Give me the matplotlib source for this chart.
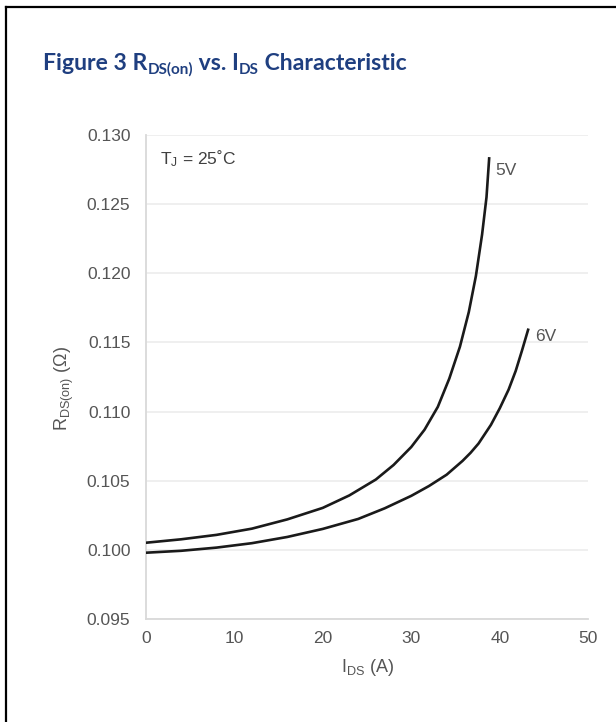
import matplotlib
matplotlib.use("Agg")
import matplotlib.pyplot as plt
from matplotlib.lines import Line2D

# ---- data ----
ids_5v = [0, 4, 8, 12, 16, 20, 23, 26, 28, 30, 31.5, 33, 34.3, 35.5, 36.5,
          37.3, 38.0, 38.5, 38.8]
rds_5v = [0.10053, 0.10078, 0.10110, 0.10155, 0.10222, 0.10305, 0.10395,
          0.10510, 0.10615, 0.10745, 0.10870, 0.11035, 0.11240, 0.11470,
          0.11720, 0.11980, 0.12280, 0.12550, 0.12830]
ids_6v = [0, 4, 8, 12, 16, 20, 24, 27, 30, 32, 34, 35.8, 36.7, 37.6, 39, 40.0,
          41.0, 41.8, 42.5, 43.2]
rds_6v = [0.09981, 0.09995, 0.10018, 0.10050, 0.10095, 0.10153, 0.10225,
          0.10302, 0.10392, 0.10463, 0.10545, 0.10645, 0.10703, 0.10770,
          0.10905, 0.11025, 0.11160, 0.11295, 0.11440, 0.11592]
series_labels = ["5V", "6V"]
x_ticks = [0, 10, 20, 30, 40, 50]
y_ticks = [0.095, 0.100, 0.105, 0.110, 0.115, 0.120, 0.125, 0.130]

plt.rcParams['mathtext.fontset'] = 'custom'
plt.rcParams['mathtext.rm'] = 'Liberation Sans'
plt.rcParams['mathtext.it'] = 'Liberation Sans'
plt.rcParams['font.family'] = ['Liberation Sans', 'DejaVu Sans']

W, H = 616, 722
fig = plt.figure(figsize=(W / 100, H / 100), dpi=100)
fig.patch.set_facecolor('white')

ax = fig.add_axes([145.7 / W, 1 - 619.3 / H, (588.3 - 145.7) / W, (619.3 - 134.9) / H])
gray = '#555555'
line_color = '#1a1a1a'
ax.plot(ids_5v, rds_5v, color=line_color, lw=1.9, solid_joinstyle='round', zorder=3)
ax.plot(ids_6v, rds_6v, color=line_color, lw=1.9, solid_joinstyle='round', zorder=3)
ax.set_xlim(0, 50)
ax.set_ylim(0.095, 0.130)
ax.set_xticks(x_ticks)
ax.set_yticks(y_ticks)
ax.set_yticklabels([f"{v:.3f}" for v in y_ticks])
ax.tick_params(length=0, labelsize=12.5, labelcolor=gray)
ax.tick_params(axis='y', pad=11)
ax.tick_params(axis='x', pad=8.5)
for s in ['top', 'right']:
    ax.spines[s].set_visible(False)
for s in ['left', 'bottom']:
    ax.spines[s].set_color('#d9d9d9')
    ax.spines[s].set_linewidth(1.3)
ax.grid(axis='y', color='#ececec', lw=1.2)
ax.set_axisbelow(True)

ax.text(39.5, 0.12745, series_labels[0], color=gray, fontsize=12.5, ha='left', va='center')
ax.text(44.0, 0.11544, series_labels[1], color=gray, fontsize=12.5, ha='left', va='center')
ax.text(1.6, 0.12826, r"T$_\mathrm{J}$ = 25˚C", color='#404040', fontsize=12.5,
        ha='left', va='center')

fig.text(368 / W, 1 - 667 / H, r"I$_\mathrm{DS}$ (A)", color=gray, fontsize=13,
         ha='center', va='center')
fig.text(64 / W, 1 - 389 / H, r"R$_\mathrm{DS(on)}$ ($\Omega$)", color=gray, fontsize=13,
         ha='center', va='center', rotation=90)

# frame
fig.add_artist(Line2D([6 / W, 1.0], [1 - 7 / H, 1 - 7 / H], color='black', lw=1.6))
fig.add_artist(Line2D([6 / W, 6 / W], [1 - 7 / H, 0.0], color='black', lw=1.6))

# title composed of pieces
title_color = '#1f3f80'
renderer = fig.canvas.get_renderer()

def build_title(fs):
    pieces = [("Figure 3 R", False), ("DS(on)", True), (" vs. I", False),
              ("DS", True), (" Characteristic", False)]
    x = 43.0
    base = 1 - 70 / H
    arts = []
    for txt, sub in pieces:
        size = fs * 0.66 if sub else fs
        y = base - (fs * 0.16 / 72 * 100) / H if sub else base
        t = fig.text(x / W, y, txt, fontsize=size, fontweight='bold', color=title_color,
                     family='Lato', ha='left', va='baseline')
        bb = t.get_window_extent(renderer)
        x = bb.x1
        arts.append(t)
    return arts, x

arts, xend = build_title(15)
target = 408.0
scale = (target - 43.0) / (xend - 43.0)
for a in arts:
    a.remove()
arts, xend = build_title(15 * scale)

fig.savefig("out.png", dpi=100, facecolor='white')
